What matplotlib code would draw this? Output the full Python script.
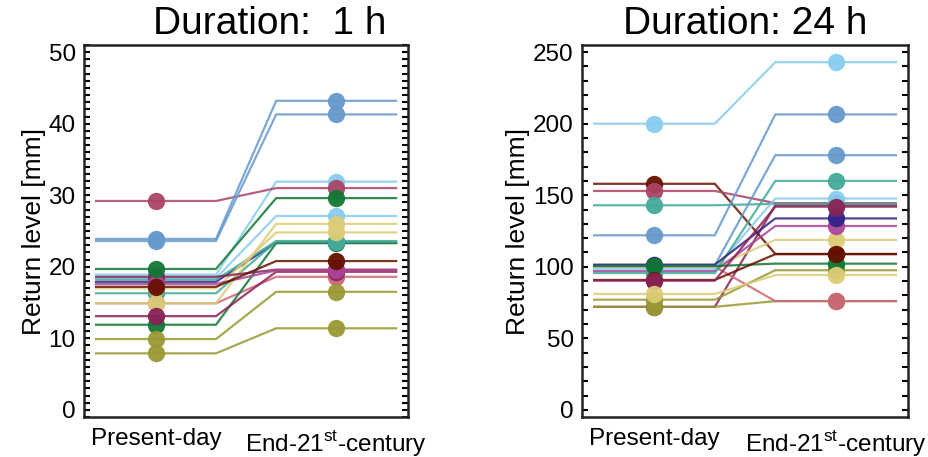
import matplotlib
matplotlib.use("Agg")
import matplotlib.pyplot as plt
from matplotlib.ticker import MultipleLocator

plt.rcParams['font.family'] = ['Liberation Sans', 'DejaVu Sans']
plt.rcParams['mathtext.fontset'] = 'custom'
plt.rcParams['mathtext.rm'] = 'Liberation Sans'

periods = ["Present-day", "End-21$^{\\mathrm{st}}$-century"]

# Duration 1 h (drawing order = list order)
colors_1h = ['#88CCEE', '#88CCEE', '#AA4466', '#6699CC', '#6699CC', '#332288',
             '#CC6677', '#117733', '#44AA99', '#44AA99', '#DDCC77', '#DDCC77',
             '#882255', '#882255', '#AA4499', '#117733', '#661100',
             '#999933', '#999933']
present_1h = [18.9, 18.4, 29.2, 23.9, 23.6, 17.9,
              14.9, 11.9, 18.2, 16.3, 17.0, 14.9,
              18.6, 13.1, 17.6, 19.7, 17.2,
              9.9, 7.9]
future_1h = [31.9, 27.1, 31.0, 43.2, 41.3, 23.4,
             18.6, 23.3, 23.6, 23.5, 24.8, 26.0,
             19.6, 19.3, 19.5, 29.6, 20.8,
             16.5, 11.4]

# Duration 24 h (drawing order = list order)
colors_24h = ['#882255', '#999933', '#999933', '#CC6677', '#88CCEE', '#661100',
              '#AA4466', '#44AA99', '#6699CC', '#6699CC', '#DDCC77', '#AA4499',
              '#88CCEE', '#44AA99', '#332288', '#117733', '#661100', '#882255',
              '#DDCC77']
present_24h = [72, 77, 72, 100, 200, 158,
               153, 143, 122, 101, 100, 97,
               98.6, 95.6, 101.5, 100.5, 90.8, 90.3,
               81]
future_24h = [143, 97.6, 76, 76, 243, 109,
              144.5, 144, 206.5, 178, 118.8, 128.5,
              147.7, 160, 133.8, 102.2, 108.8, 142,
              94.2]

panels = [
    ("Duration:  1 h", colors_1h, present_1h, future_1h, (-1, 51), 10, 1, 0.574),
    ("Duration: 24 h", colors_24h, present_24h, future_24h, (-5, 255), 50, 10, 0.5),
]

fig = plt.figure(figsize=(9.29, 4.57), dpi=100)
positions = [[0.0904, 0.0875, 0.349, 0.814], [0.6265, 0.0875, 0.351, 0.814]]

for pos, (title, cols, pres, fut, ylim, major, minor, tx) in zip(positions, panels):
    ax = fig.add_axes(pos)
    for c, p, f in zip(cols, pres, fut):
        ax.plot([0.667, 1.333, 1.667, 2.333], [p, p, f, f], color=c, lw=1.6,
                alpha=0.85, solid_joinstyle='miter')
    for c, p, f in zip(cols, pres, fut):
        ax.plot([1], [p], 'o', color=c, ms=12.5, mec='none', alpha=0.95)
        ax.plot([2], [f], 'o', color=c, ms=12.5, mec='none', alpha=0.95)
    ax.set_xlim(0.6, 2.4)
    ax.set_ylim(*ylim)
    ax.set_xticks([1, 2])
    ax.set_xticklabels(periods, fontsize=17.5)
    ax.tick_params(axis='x', length=0, pad=8)
    ax.yaxis.set_minor_locator(MultipleLocator(minor))
    ax.set_yticks([v for v in range(0, int(ylim[1]) + 1, major)])
    ax.tick_params(axis='y', which='both', direction='in', left=True, right=True,
                   length=4, width=1.5, labelsize=17.5, pad=6)
    ax.set_ylabel("Return level [mm]", fontsize=19, labelpad=2)
    t = ax.set_title(title, fontsize=28, pad=8)
    t.set_x(tx)
    for s in ax.spines.values():
        s.set_linewidth(1.8)
        s.set_color('#222222')

fig.savefig("out.png", dpi=100)
